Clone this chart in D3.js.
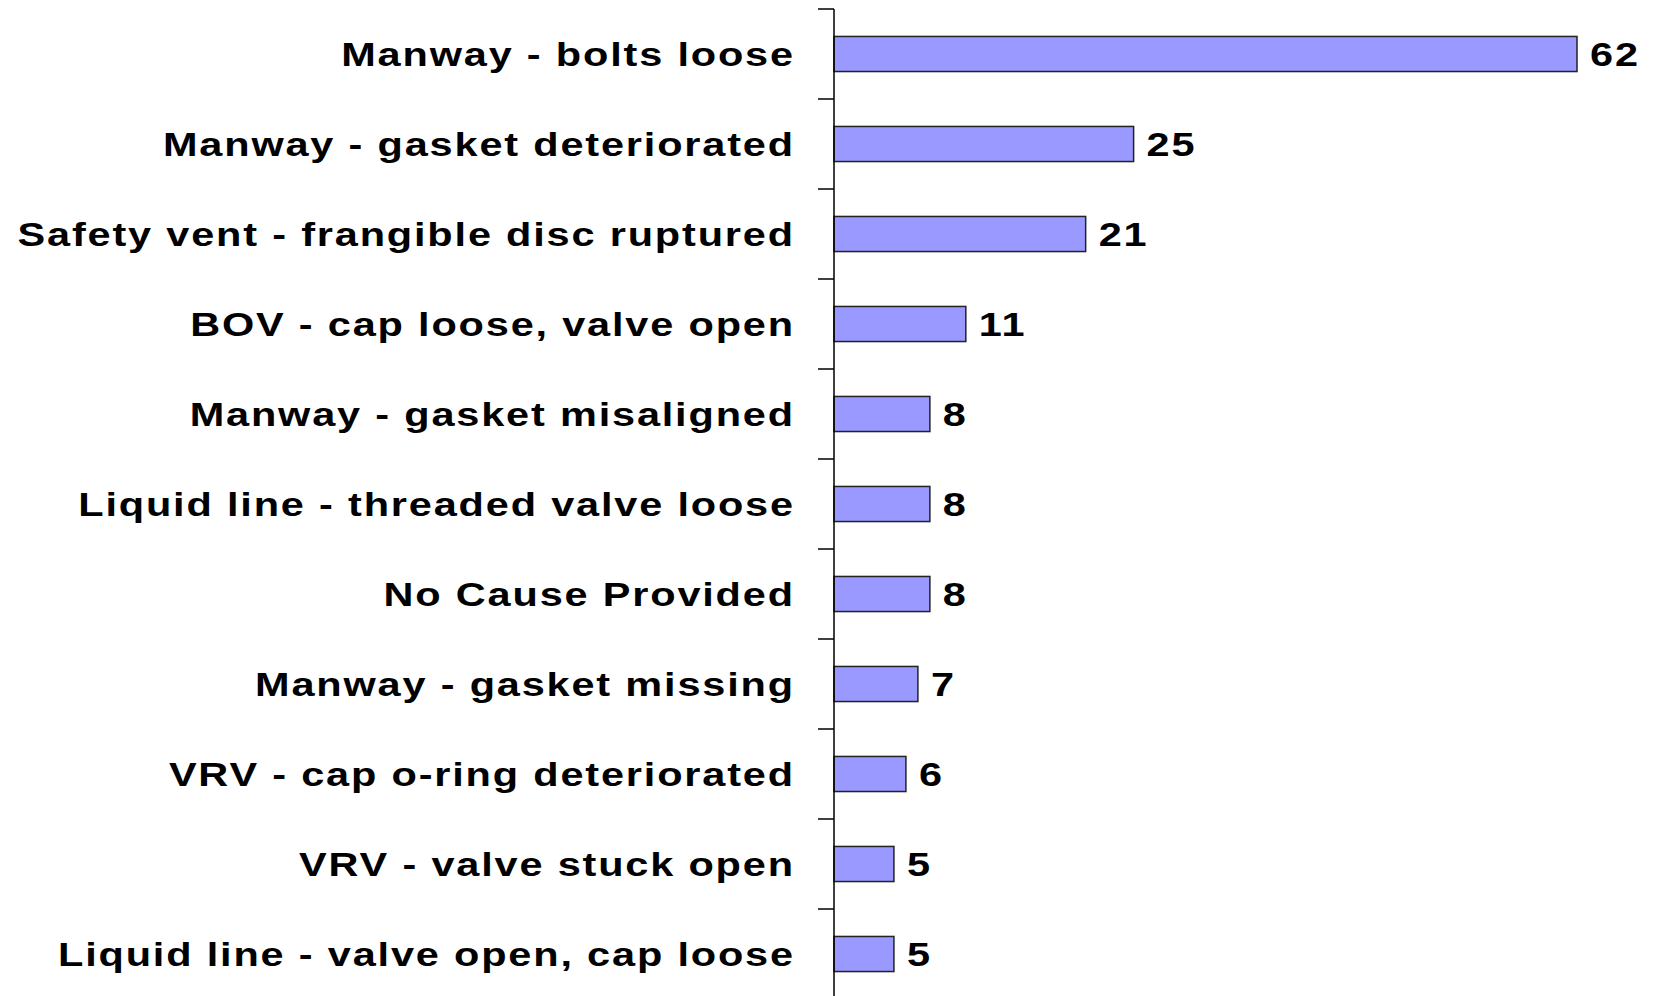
<!DOCTYPE html>
<html>
<head>
<meta charset="utf-8">
<script src="https://cdn.jsdelivr.net/npm/d3@7"></script>
<style>
  body { margin: 0; background: #fff; }
  svg { display: block; }
</style>
</head>
<body>
<div id="chart"></div>
<script>
// Categories top to bottom and their counts
const causes = [
    "Manway - bolts loose",
    "Manway - gasket deteriorated",
    "Safety vent - frangible disc ruptured",
    "BOV - cap loose, valve open",
    "Manway - gasket misaligned",
    "Liquid line - threaded valve loose",
    "No Cause Provided",
    "Manway - gasket missing",
    "VRV - cap o-ring deteriorated",
    "VRV - valve stuck open",
    "Liquid line - valve open, cap loose"
];
const counts = [62, 25, 21, 11, 8, 8, 8, 7, 6, 5, 5];

const width = 1653;
const height = 996;
const margin = { top: 9, right: 0, bottom: -3, left: 834 };

const data = causes.map((c, i) => ({ cause: c, count: counts[i] }));

const svg = d3.select("#chart").append("svg")
    .attr("width", width)
    .attr("height", height);

const x = d3.scaleLinear()
    .domain([0, 62])
    .range([margin.left, margin.left + 743]);

const y = d3.scaleBand()
    .domain(causes)
    .range([margin.top, height - margin.bottom])
    .paddingInner(0.61)
    .paddingOuter(0.305);

// bars
svg.append("g")
    .selectAll("rect")
    .data(data)
    .join("rect")
    .attr("x", x(0))
    .attr("y", d => y(d.cause))
    .attr("width", d => x(d.count) - x(0))
    .attr("height", y.bandwidth())
    .attr("fill", "#9999ff")
    .attr("stroke", "#222")
    .attr("stroke-width", 1.5);

// axis line + ticks between categories
const step = y.step();
const axis = svg.append("g").attr("stroke", "#000").attr("stroke-width", 1.5);
axis.append("line")
    .attr("x1", x(0)).attr("x2", x(0))
    .attr("y1", margin.top).attr("y2", height);
axis.selectAll("line.tick")
    .data(d3.range(causes.length))
    .join("line")
    .attr("class", "tick")
    .attr("x1", x(0) - 16).attr("x2", x(0))
    .attr("y1", i => margin.top + i * step)
    .attr("y2", i => margin.top + i * step);

// the original font is a wide bold sans, so stretch Liberation Sans a bit
const font = "Liberation Sans, Arial, sans-serif";
const spacing = 1.5;
const stretch = 1.22;

const styleText = sel => sel
    .attr("font-family", font)
    .attr("font-weight", "bold")
    .attr("font-size", "34px")
    .attr("letter-spacing", spacing)
    .attr("fill", "#000");

// category labels
svg.append("g")
    .selectAll("text")
    .data(data)
    .join("text")
    .attr("transform", d => `translate(${x(0) - 41 + spacing * stretch},${y(d.cause) + y.bandwidth() / 2}) scale(${stretch},1)`)
    .attr("dy", "0.36em")
    .attr("text-anchor", "end")
    .call(styleText)
    .text(d => d.cause);

// value labels
svg.append("g")
    .selectAll("text")
    .data(data)
    .join("text")
    .attr("transform", d => `translate(${x(d.count) + 13},${y(d.cause) + y.bandwidth() / 2}) scale(${stretch},1)`)
    .attr("dy", "0.36em")
    .call(styleText)
    .text(d => d.count);
</script>
</body>
</html>
